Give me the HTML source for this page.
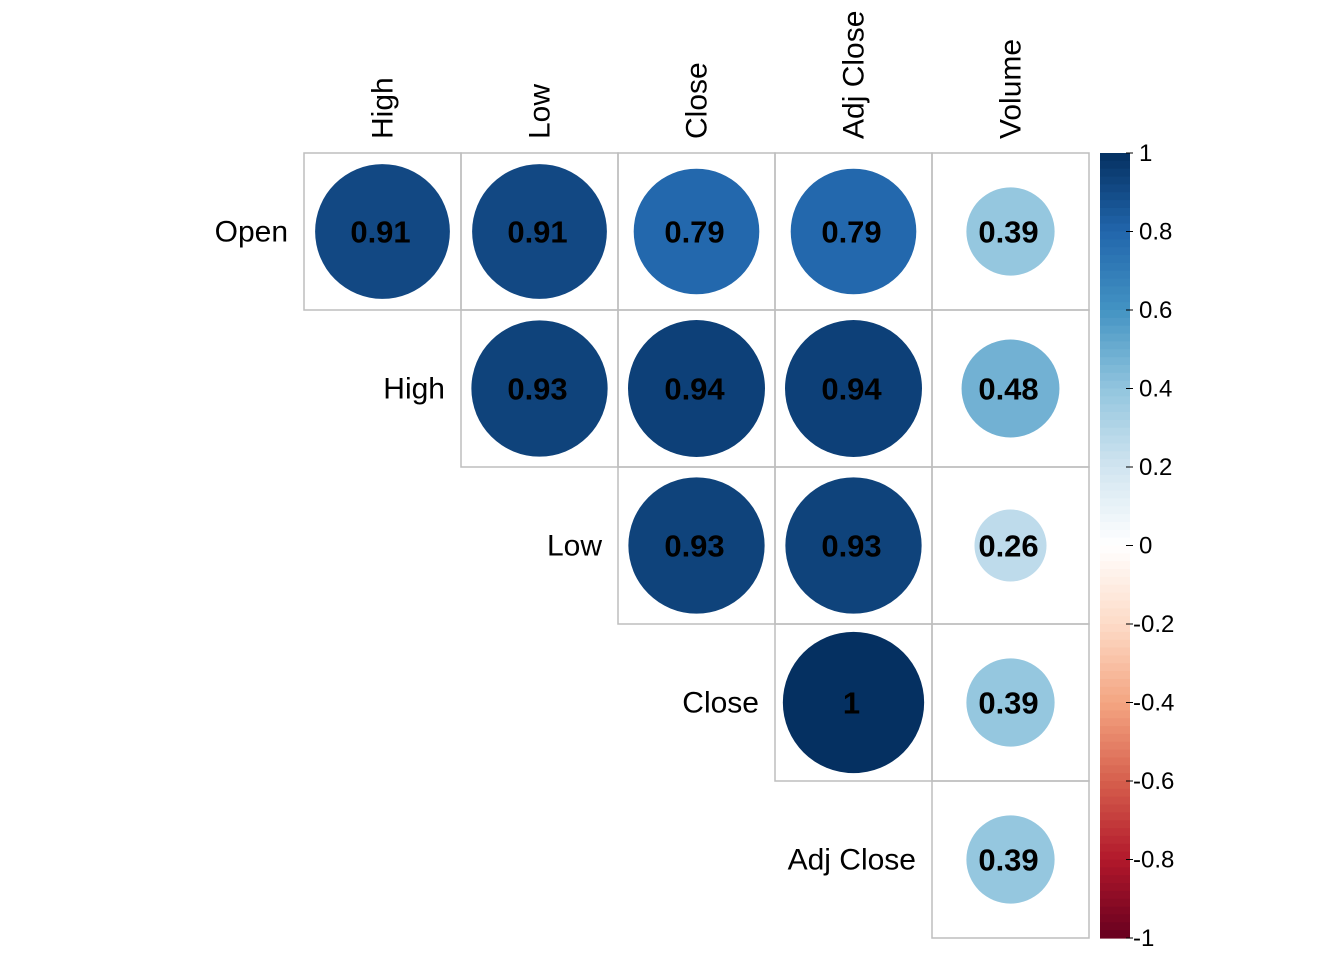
<!DOCTYPE html>
<html><head><meta charset="utf-8"><style>
html,body{margin:0;padding:0;background:#fff;}
svg{display:block;font-family:"Liberation Sans",Arial,sans-serif;}
</style></head><body>
<svg id="chart" width="1344" height="960"></svg>
<script>
const labels = ["Open","High","Low","Close","Adj Close","Volume"];
const corrRows = [
 [0.91,0.91,0.79,0.79,0.39],
 [0.93,0.94,0.94,0.48],
 [0.93,0.93,0.26],
 [1,0.39],
 [0.39]
];
const tickValues = [1,0.8,0.6,0.4,0.2,0,-0.2,-0.4,-0.6,-0.8,-1];
const tickLabels = ["1","0.8","0.6","0.4","0.2","0","-0.2","-0.4","-0.6","-0.8","-1"];
const palette = ["#67001F","#B2182B","#D6604D","#F4A582","#FDDBC7","#FFFFFF","#D1E5F0","#92C5DE","#4393C3","#2166AC","#053061"];

const NS="http://www.w3.org/2000/svg";
const svg=document.getElementById('chart');
const x0=304,y0=153,cell=157;
const cbX=1100,cbW=30,cbTop=153,cbBot=938;
function mk(t,a){const e=document.createElementNS(NS,t);for(const k in a)e.setAttribute(k,a[k]);svg.appendChild(e);return e;}
function hex(h){return [1,3,5].map(i=>parseInt(h.substr(i,2),16));}
function col(v){const t=(v+1)/2*(palette.length-1);const i=Math.min(Math.floor(t),palette.length-2);const f=t-i;const a=hex(palette[i]),b=hex(palette[i+1]);return "rgb("+a.map((c,k)=>Math.round(c+(b[k]-c)*f)).join(",")+")";}
function cx(j){return x0+j*cell+cell/2;}
function cy(i){return y0+i*cell+cell/2;}
function vy(v){return cbTop+(1-v)/2*(cbBot-cbTop);}

for(let j=1;j<labels.length;j++){
  const t=mk('text',{x:0,y:0,transform:`translate(${cx(j-1)+10},139) rotate(-90)`,'font-size':30,fill:'#000'});
  t.textContent=labels[j];
  
  
}
corrRows.forEach((row,i)=>{
  const tl=mk('text',{x:x0+i*cell-16,y:cy(i)+10,'text-anchor':'end','font-size':30,fill:'#000'});
  tl.textContent=labels[i];
  
  
  row.forEach((v,k)=>{
    const j=i+k;
    const r=mk('rect',{x:x0+j*cell,y:y0+i*cell,width:cell,height:cell,fill:'none',stroke:'#bebebe','stroke-width':1.5});
    
    
    const c=mk('circle',{cx:cx(j),cy:cy(i),r:0.45*cell*Math.sqrt(Math.abs(v)),fill:col(v)});
    
    
    const t=mk('text',{x:cx(j)-2,y:cy(i)+11,'text-anchor':'middle','font-size':31,'font-weight':'bold',fill:'#000'});
    t.textContent=String(v);
    
    
  });
});
const N=100;
for(let n=0;n<N;n++){
  const v=1-2*(n+0.5)/N;
  const r=mk('rect',{x:cbX,y:cbTop+n*(cbBot-cbTop)/N,width:cbW,height:(cbBot-cbTop)/N+0.6,fill:col(v)});
  
  
}
tickValues.forEach((v,i)=>{
  const l=mk('line',{x1:cbX+cbW-4,x2:cbX+cbW+3,y1:vy(v),y2:vy(v),stroke:'#000','stroke-width':1});
  
  
  const t=mk('text',{x:cbX+cbW+(v<0?3:9),y:vy(v)+8,'font-size':24,fill:'#000'});
  t.textContent=tickLabels[i];
  
  
});
</script>
</body></html>
